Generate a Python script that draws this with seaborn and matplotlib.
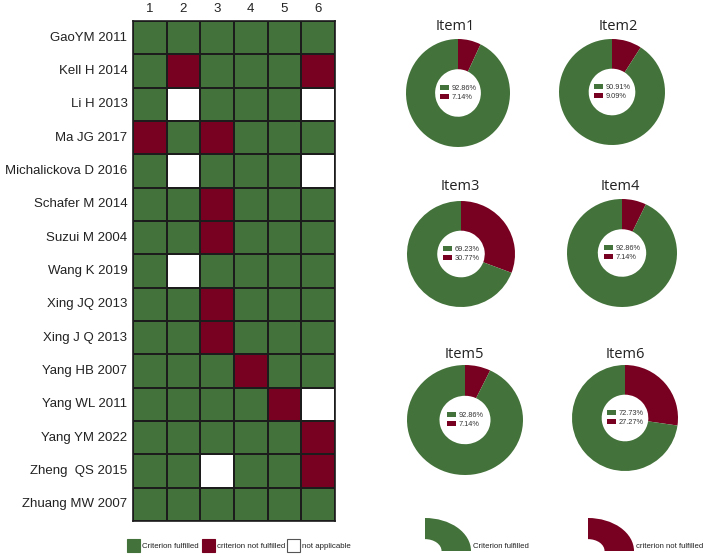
import numpy as np
import pandas as pd
import matplotlib
matplotlib.use("Agg")
import matplotlib.pyplot as plt
from matplotlib.colors import ListedColormap
from matplotlib.patches import Wedge, Rectangle
import seaborn as sns

# ---------------- data ----------------
studies = ["GaoYM 2011", "Kell H 2014", "Li H 2013", "Ma JG 2017",
           "Michalickova D 2016", "Schafer M 2014", "Suzui M 2004",
           "Wang K 2019", "Xing JQ 2013", "Xing J Q 2013", "Yang HB 2007",
           "Yang WL 2011", "Yang YM 2022", "Zheng  QS 2015", "Zhuang MW 2007"]
items = ["1", "2", "3", "4", "5", "6"]
# Y = criterion fulfilled, N = criterion not fulfilled, X = not applicable
rating_rows = [
    "YYYYYY",
    "YNYYYN",
    "YXYYYX",
    "NYNYYY",
    "YXYYYX",
    "YYNYYY",
    "YYNYYY",
    "YXYYYY",
    "YYNYYY",
    "YYNYYY",
    "YYYNYY",
    "YYYYNX",
    "YYYYYN",
    "YYXYYN",
    "YYYYYY",
]
donut_titles = ["Item1", "Item2", "Item3", "Item4", "Item5", "Item6"]
pct_fulfilled = [92.86, 90.91, 69.23, 92.86, 92.86, 72.73]
pct_not_fulfilled = [7.14, 9.09, 30.77, 7.14, 7.14, 27.27]
legend_labels = ["Criterion fulfilled", "criterion not fulfilled", "not applicable"]

GREEN = "#43733A"
RED = "#780020"
EDGE = "#1c1c1c"

W, H = 708, 557
fig = plt.figure(figsize=(W / 100, H / 100), dpi=100)
sns.set_style("white")
plt.rcParams["font.family"] = ["Liberation Sans", "DejaVu Sans"]

small_fs = 5.7

def px_axes(x0, y0, x1, y1):
    return fig.add_axes([x0 / W, 1 - y1 / H, (x1 - x0) / W, (y1 - y0) / H])

# ---------------- heatmap grid ----------------
code = {"X": 0, "N": 1, "Y": 2}
mat = pd.DataFrame([[code[c] for c in r] for r in rating_rows],
                   index=studies, columns=items)
ax = px_axes(133, 21, 335, 521)
cmap = ListedColormap(["white", RED, GREEN])
sns.heatmap(mat, ax=ax, cmap=cmap, vmin=-0.5, vmax=2.5, cbar=False,
            linewidths=1.2, linecolor=EDGE, xticklabels=items,
            yticklabels=studies)
ax.xaxis.tick_top()
ax.tick_params(axis="both", length=0, labelsize=9.5, colors="#222222")
ax.tick_params(axis="x", pad=4)
ax.tick_params(axis="y", pad=4)
ax.set_xlabel("")
ax.set_ylabel("")
plt.setp(ax.get_yticklabels(), rotation=0)
for s in ax.spines.values():
    s.set_visible(True)
    s.set_color(EDGE)
    s.set_linewidth(1.2)

# grid legend (bottom)
lax = px_axes(120, 532, 360, 557)
lax.set_xlim(120, 360)
lax.set_ylim(557, 532)
lax.axis("off")
sq = [(127, GREEN), (202, RED), (287, "white")]
for (x, c), lab in zip(sq, legend_labels):
    lax.add_patch(Rectangle((x, 539), 13, 13, facecolor=c,
                            edgecolor="#555555" if c == "white" else c, linewidth=0.8))
    lax.text(x + 15, 547, lab, fontsize=small_fs,
             va="center", ha="left", color="#222222")

# ---------------- donuts ----------------
centers = [(458, 93, 52, 54), (612, 92, 53, 53),
           (461, 254, 54, 53), (622, 253, 55, 54),
           (465, 420, 58, 55), (625, 418, 53, 53)]
title_pos = [(455, 27), (618, 27), (460, 187), (620, 187), (464, 355), (625, 355)]
for i, (cx, cy, rx, ry) in enumerate(centers):
    dax = px_axes(cx - rx, cy - ry, cx + rx, cy + ry)
    wedges, _ = dax.pie([pct_not_fulfilled[i], pct_fulfilled[i]],
                        colors=[RED, GREEN], startangle=90, counterclock=False,
                        radius=1, wedgeprops=dict(width=0.56, linewidth=0))
    dax.set_aspect("auto")
    dax.set_xlim(-1, 1)
    dax.set_ylim(-1, 1)
    dax.axis("off")
    leg = dax.legend([wedges[1], wedges[0]],
                     [f"{pct_fulfilled[i]:.2f}%", f"{pct_not_fulfilled[i]:.2f}%"],
                     loc="center", frameon=False, fontsize=5.3,
                     handlelength=1.3, handleheight=0.7, handletextpad=0.3,
                     labelspacing=0.15, borderpad=0)
    for t in leg.get_texts():
        t.set_color("#333333")
    tx, ty = title_pos[i]
    fig.text(tx / W, 1 - ty / H, donut_titles[i], fontsize=10.5,
             family=["Open Sans", "DejaVu Sans"], ha="center", va="center",
             color="#222222")

# bottom quarter-ring legend
for (x0, c, lab) in [(425, GREEN, legend_labels[0]), (588, RED, legend_labels[1])]:
    qax = px_axes(x0, 518, x0 + 46, 551)
    qax.set_xlim(0, 1)
    qax.set_ylim(0, 1)
    qax.axis("off")
    qax.add_patch(Wedge((0, 0), 1, 0, 90, width=0.64, facecolor=c, edgecolor="none"))
    fig.text((x0 + 48) / W, 1 - 547 / H, lab, fontsize=5.6,
             ha="left", va="center", color="#222222")

fig.savefig("out.png", dpi=100)
